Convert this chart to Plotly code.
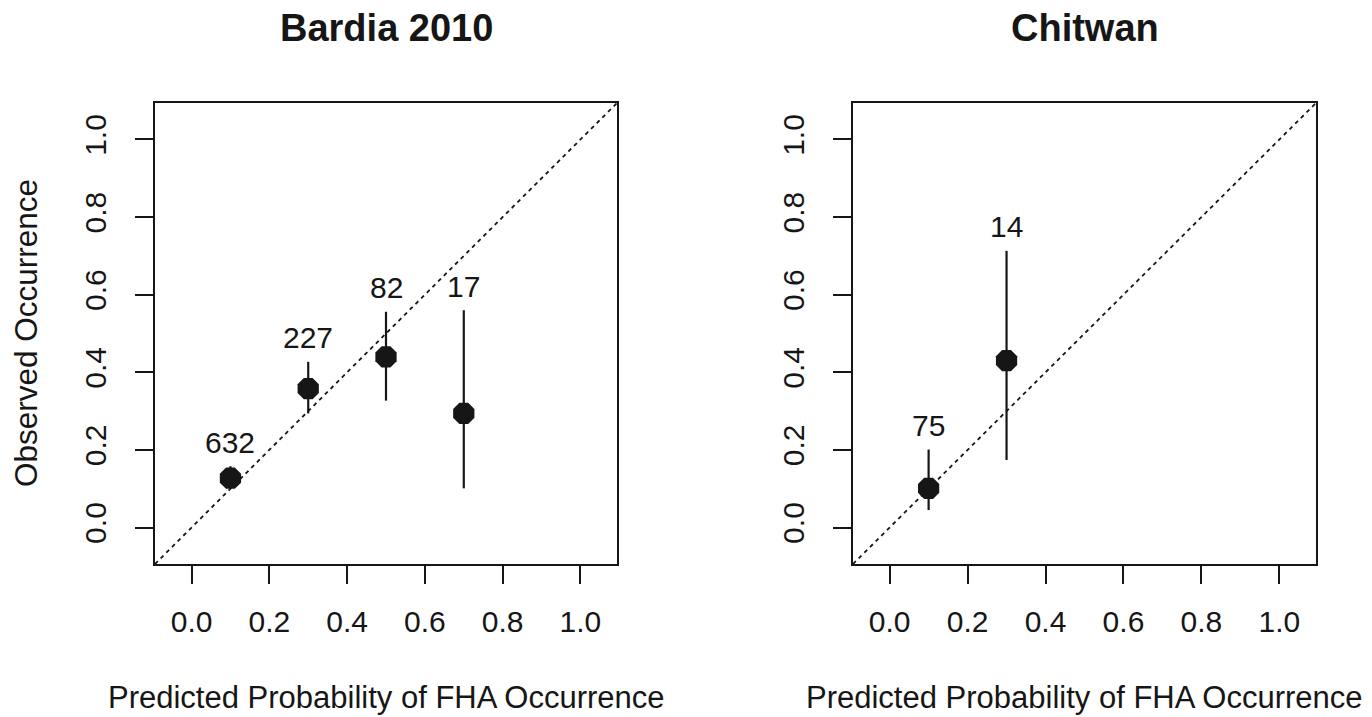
import plotly.graph_objects as go

# ---- data ----
panel_titles = ["Bardia 2010", "Chitwan"]

bardia_x = [0.1, 0.3, 0.5, 0.7]
bardia_obs = [0.127, 0.358, 0.440, 0.294]
bardia_upper = [0.158, 0.427, 0.556, 0.560]
bardia_lower = [0.100, 0.294, 0.327, 0.101]
bardia_n = [632, 227, 82, 17]

chitwan_x = [0.1, 0.3]
chitwan_obs = [0.101, 0.430]
chitwan_upper = [0.201, 0.713]
chitwan_lower = [0.045, 0.174]
chitwan_n = [75, 14]

tick_vals = [0.0, 0.2, 0.4, 0.6, 0.8, 1.0]
tick_text = ["0.0", "0.2", "0.4", "0.6", "0.8", "1.0"]
x_title = "Predicted Probability of FHA Occurrence"
y_title = "Observed Occurrence"

FONT = "Liberation Sans, Arial, sans-serif"
INK = "#161616"
AX_RANGE = [-0.094, 1.094]

W, H = 1372, 717
ml, mr, mt, mb = 155, 56, 103, 153
pw = W - ml - mr
ph = H - mt - mb
left_w = 462
gap_start = 853 - ml
d1 = [0, left_w / pw]
d2 = [gap_start / pw, 1]


def py(pix):
    """pixel row from top -> paper y"""
    return (H - mb - pix) / ph


def pxp(pix):
    """pixel column from left -> paper x"""
    return (pix - ml) / pw


fig = go.Figure()

panels = [
    (bardia_x, bardia_obs, bardia_upper, bardia_lower, bardia_n, "x", "y"),
    (chitwan_x, chitwan_obs, chitwan_upper, chitwan_lower, chitwan_n, "x2", "y2"),
]

for px_, obs, up, lo, n, xa, ya in panels:
    # diagonal reference line
    fig.add_trace(go.Scatter(
        x=[AX_RANGE[0], AX_RANGE[1]], y=[AX_RANGE[0], AX_RANGE[1]],
        mode="lines", line=dict(color=INK, width=1.8, dash="4px,4px"),
        xaxis=xa, yaxis=ya, showlegend=False, hoverinfo="skip"))
    # points with interval bars
    fig.add_trace(go.Scatter(
        x=px_, y=obs, mode="markers",
        marker=dict(symbol="octagon", size=23, color=INK, line=dict(width=0)),
        error_y=dict(type="data", symmetric=False,
                     array=[u - o for u, o in zip(up, obs)],
                     arrayminus=[o - l for o, l in zip(obs, lo)],
                     color=INK, thickness=2.2, width=0),
        xaxis=xa, yaxis=ya, showlegend=False))
    for xi, ui, ni in zip(px_, up, n):
        fig.add_annotation(x=xi, y=ui, xref=xa, yref=ya, text=str(ni),
                           showarrow=False, xanchor="center", yanchor="middle",
                           yshift=24,
                           font=dict(family=FONT, size=30, color=INK))

axis_common = dict(range=AX_RANGE, tickvals=tick_vals, ticktext=tick_text,
                   showgrid=False, zeroline=False, showline=True, mirror=True,
                   linecolor=INK, linewidth=2, ticks="outside", ticklen=18,
                   tickwidth=2, tickcolor=INK,
                   tickfont=dict(family=FONT, size=30, color=INK))

fig.update_layout(
    width=W, height=H,
    margin=dict(l=ml, r=mr, t=mt, b=mb),
    paper_bgcolor="white", plot_bgcolor="white",
    font=dict(family=FONT, size=30, color=INK),
    xaxis=dict(domain=d1, anchor="y", ticklabelstandoff=12, **axis_common),
    yaxis=dict(domain=[0, 1], anchor="x", tickangle=-90, ticklabelstandoff=17, **axis_common),
    xaxis2=dict(domain=d2, anchor="y2", ticklabelstandoff=12, **axis_common),
    yaxis2=dict(domain=[0, 1], anchor="x2", tickangle=-90, ticklabelstandoff=17, **axis_common),
)

for title, dom in zip(panel_titles, [d1, d2]):
    cx = (dom[0] + dom[1]) / 2
    fig.add_annotation(x=cx, y=py(28), xref="paper", yref="paper",
                       text="<b>%s</b>" % title, showarrow=False,
                       xanchor="center", yanchor="middle",
                       font=dict(family=FONT, size=38, color=INK))
    fig.add_annotation(x=cx, y=py(697), xref="paper", yref="paper",
                       text=x_title, showarrow=False,
                       xanchor="center", yanchor="middle",
                       font=dict(family=FONT, size=31, color=INK))

fig.add_annotation(x=pxp(26), y=py(333), xref="paper", yref="paper", text=y_title,
                   showarrow=False, textangle=-90, xanchor="center", yanchor="middle",
                   font=dict(family=FONT, size=31.5, color=INK))

fig.write_html("out.html")
